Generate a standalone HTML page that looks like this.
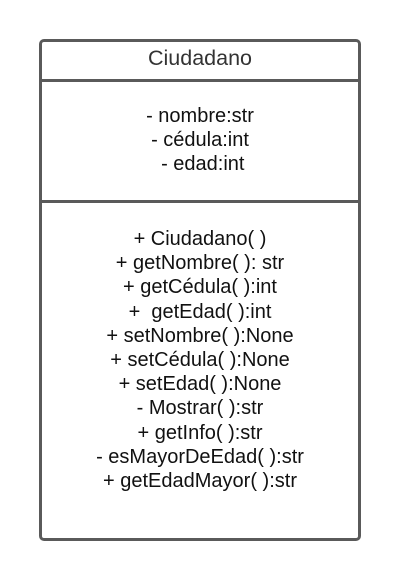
<!DOCTYPE html>
<html><head><style>
body{margin:0;width:400px;height:580px;background:#fff;position:relative;font-family:"Liberation Sans",sans-serif;}
.box{position:absolute;left:39px;top:39px;width:316px;height:496px;border:3px solid #5a5a5a;border-radius:5px;}
.line{position:absolute;left:39px;width:322px;height:3px;background:#5a5a5a;}
.t{position:absolute;left:39px;width:322px;text-align:center;font-size:20px;line-height:24.2px;color:#111;white-space:pre;}
</style></head><body>
<div class="box"></div>
<div class="line" style="top:79px"></div>
<div class="line" style="top:200px"></div>
<div class="t" style="top:46px;color:#333;font-size:21.5px">Ciudadano</div>
<div class="t" style="top:104px">- nombre:str
- cédula:int
 - edad:int</div>
<div class="t" style="top:227px">+ Ciudadano( )
+ getNombre( ): str
+ getCédula( ):int
+  getEdad( ):int
+ setNombre( ):None
+ setCédula( ):None
+ setEdad( ):None
- Mostrar( ):str
+ getInfo( ):str
- esMayorDeEdad( ):str
+ getEdadMayor( ):str</div>
</body></html>
